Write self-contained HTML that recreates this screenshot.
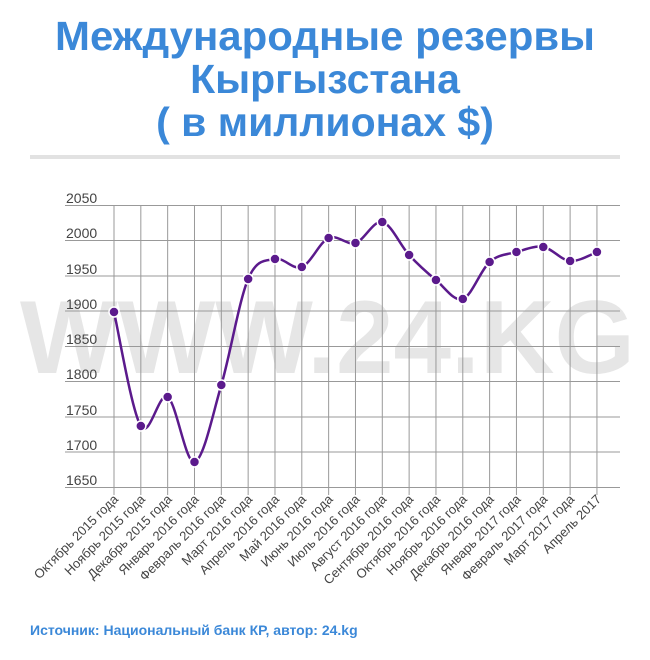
<!DOCTYPE html>
<html><head><meta charset="utf-8"><style>
body{margin:0;background:#fff;width:650px;height:655px;overflow:hidden;font-family:"Liberation Sans",sans-serif}
</style></head><body>
<svg width="650" height="655" xmlns="http://www.w3.org/2000/svg" font-family="Liberation Sans, sans-serif">
<g fill="#3b88d8" font-weight="bold" font-size="41" text-anchor="middle">
<text x="325" y="50" textLength="540" lengthAdjust="spacingAndGlyphs">Международные резервы</text>
<text x="325" y="93">Кыргызстана</text>
<text x="325" y="136">( в миллионах $)</text>
</g>
<rect x="30" y="155" width="590" height="4" fill="#e2e2e2"/>
<text x="20" y="373" font-size="104" font-weight="bold" fill="#e6e6e6" textLength="615" lengthAdjust="spacingAndGlyphs">WWW.24.KG</text>
<g stroke="#999" stroke-width="1">
<line x1="65" x2="620" y1="205.5" y2="205.5"/><line x1="65" x2="620" y1="240.5" y2="240.5"/>
<line x1="65" x2="620" y1="276" y2="276"/><line x1="65" x2="620" y1="311" y2="311"/>
<line x1="65" x2="620" y1="346.5" y2="346.5"/><line x1="65" x2="620" y1="381.5" y2="381.5"/>
<line x1="65" x2="620" y1="417" y2="417"/><line x1="65" x2="620" y1="452" y2="452"/>
<line x1="65" x2="620" y1="487.5" y2="487.5"/>
</g>
<g stroke="#999" stroke-width="1" id="v"></g>
<g fill="#444" font-size="14">
<text x="66" y="203">2050</text><text x="66" y="238">2000</text><text x="66" y="274">1950</text>
<text x="66" y="309">1900</text><text x="66" y="344">1850</text><text x="66" y="379">1800</text>
<text x="66" y="415">1750</text><text x="66" y="450">1700</text><text x="66" y="485">1650</text>
</g>
<g id="labels" fill="#444" font-size="13" text-anchor="end"></g>
<path id="curve" fill="none" stroke="#5b1a8c" stroke-width="2.5"/>
<g id="dots" fill="#5b1a8c" stroke="#fff" stroke-width="1.5"></g>
<text x="30" y="635" font-size="14" font-weight="bold" fill="#3b88d8">Источник: Национальный банк КР, автор: 24.kg</text>
</svg>
<script>
var ys=[312,426,397,462,385,279,259,267,238,243,222,255,280,299,262,252,247,261,252];
var names=["Октябрь 2015 года","Ноябрь 2015 года","Декабрь 2015 года","Январь 2016 года","Февраль 2016 года","Март 2016 года","Апрель 2016 года","Май 2016 года","Июнь 2016 года","Июль 2016 года","Август 2016 года","Сентябрь 2016 года","Октябрь 2016 года","Ноябрь 2016 года","Декабрь 2016 года","Январь 2017 года","Февраль 2017 года","Март 2017 года","Апрель 2017"];
var ns="http://www.w3.org/2000/svg";
var pts=ys.map(function(y,i){return [114+i*26.83,y]});
var v=document.getElementById('v'),L=document.getElementById('labels'),D=document.getElementById('dots');
pts.forEach(function(p,i){
 var l=document.createElementNS(ns,'line');l.setAttribute('x1',p[0]);l.setAttribute('x2',p[0]);l.setAttribute('y1',205);l.setAttribute('y2',495);v.appendChild(l);
 var t=document.createElementNS(ns,'text');t.setAttribute('transform','translate('+(p[0]+5)+',500) rotate(-45)');t.textContent=names[i];L.appendChild(t);
 var c=document.createElementNS(ns,'circle');c.setAttribute('cx',p[0]);c.setAttribute('cy',p[1]);c.setAttribute('r',5);D.appendChild(c);
});
var d='M'+pts[0][0]+','+pts[0][1];
for(var i=0;i<pts.length-1;i++){
 var p0=pts[i-1]||pts[i],p1=pts[i],p2=pts[i+1],p3=pts[i+2]||p2;
 var c1=[p1[0]+(p2[0]-p0[0])/6,p1[1]+(p2[1]-p0[1])/6],c2=[p2[0]-(p3[0]-p1[0])/6,p2[1]-(p3[1]-p1[1])/6];
 d+=' C'+c1+' '+c2+' '+p2;
}
document.getElementById('curve').setAttribute('d',d);
</script>
</body></html>
